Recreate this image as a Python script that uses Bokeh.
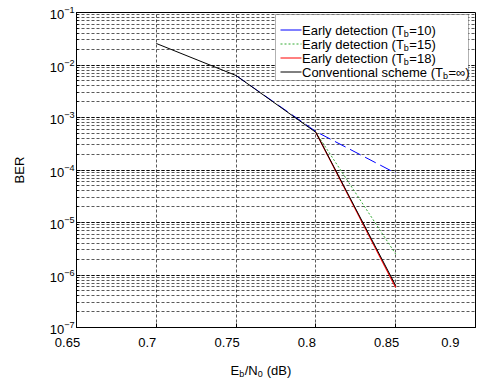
from bokeh.plotting import figure
from bokeh.layouts import column
from bokeh.models import (FixedTicker, LogTicker, Label, BoxAnnotation, Arrow,
                          Range1d)
from bokeh.embed import file_html
from bokeh.resources import INLINE

# ---------------- data ----------------
x_conv = [0.70, 0.75, 0.80, 0.85]
ber_conv = [2.57e-2, 6.3e-3, 5.2e-4, 6.3e-7]

x_tb10 = [0.75, 0.80, 0.85]
ber_tb10 = [6.3e-3, 5.4e-4, 8.7e-5]

x_tb15 = [0.80, 0.85]
ber_tb15 = [5.2e-4, 2.5e-6]

x_tb18 = [0.80, 0.85]
ber_tb18 = [5.2e-4, 5.8e-7]

x_ticks = [0.65, 0.7, 0.75, 0.8, 0.85, 0.9]
x_tick_labels = ["0.65", "0.7", "0.75", "0.8", "0.85", "0.9"]

legend_main = ["Early detection (T", "Early detection (T", "Early detection (T",
               "Conventional scheme (T"]
legend_sub = ["b", "b", "b", "b"]
legend_suffix = ["=10)", "=15)", "=18)", "=\u221e)"]

# ---------------- layout ----------------
W, H = 477, 381
ML, MR, MT = 76, 2, 12
FB = 327                # frame bottom (page px)
H1 = 352                # main figure height
H2 = H - H1             # bottom strip with the x title
X0, X1 = 0.65, 0.9
FONT = "Liberation Sans"
FS = 13
SFS = 9
PAD = "\u00a0" * 5      # trailing pad: tick labels sit left of their ticks

ADV = {" ": 278, "(": 333, ")": 333, "=": 584, "/": 278, "E": 667, "N": 722,
       "B": 667, "T": 611, "C": 722, "a": 556, "b": 556, "c": 500, "d": 556,
       "e": 556, "h": 556, "i": 222, "l": 222, "m": 833, "n": 556, "o": 556,
       "r": 333, "s": 500, "t": 278, "v": 500, "y": 500, "0": 556, "1": 556,
       "5": 556, "8": 556, "\u221e": 713}


def tw(s, size):
    return sum(ADV.get(ch, 556) for ch in s) * size / 1000.0


def sx(px):
    return px - ML


def sy(py):
    return FB - py


p = figure(width=W, height=H1, y_axis_type="log", output_backend="svg",
           toolbar_location=None, x_range=Range1d(X0, X1),
           y_range=Range1d(1e-7, 1e-1),
           min_border_left=ML, min_border_right=MR, min_border_top=MT,
           min_border_bottom=H1 - FB)
p.background_fill_color = "white"
p.border_fill_color = "white"
p.outline_line_color = "black"
p.outline_line_width = 1

for ax in (p.xaxis[0], p.yaxis[0]):
    ax.axis_line_color = "black"
    ax.major_tick_in = 4
    ax.major_tick_out = 0
    ax.minor_tick_in = 2
    ax.minor_tick_out = 0
    ax.major_tick_line_color = "black"
    ax.minor_tick_line_color = "black"
    ax.major_label_text_font = FONT
    ax.major_label_text_font_size = "%dpx" % FS
    ax.major_label_text_color = "black"
p.xaxis.ticker = FixedTicker(ticks=x_ticks, minor_ticks=[])
p.xaxis.major_label_overrides = {t: lbl + PAD for t, lbl in zip(x_ticks, x_tick_labels)}
p.xaxis.major_label_standoff = 7
p.yaxis.ticker = LogTicker(num_minor_ticks=10)
p.yaxis.major_label_standoff = 2
p.yaxis.axis_label = "BER"
p.yaxis.axis_label_text_font = FONT
p.yaxis.axis_label_text_font_size = "%dpx" % FS
p.yaxis.axis_label_text_font_style = "normal"
p.yaxis.axis_label_text_color = "black"
p.yaxis.axis_label_standoff = 20

for g in (p.xgrid, p.ygrid):
    g.grid_line_color = "black"
    g.grid_line_alpha = 0.65
    g.grid_line_dash = "3 2"
p.ygrid.minor_grid_line_color = "black"
p.ygrid.minor_grid_line_alpha = 0.65
p.ygrid.minor_grid_line_dash = "3 2"

colors = ["blue", "#33aa33", "red", "black"]
dashes = ["12 5", "2 2", "solid", "solid"]
widths = [1, 1, 1.2, 1]
p.line(x_tb10, ber_tb10, line_color=colors[0], line_width=widths[0], line_dash=dashes[0])
p.line(x_tb15, ber_tb15, line_color=colors[1], line_width=widths[1], line_dash=dashes[1])
p.line(x_tb18, ber_tb18, line_color=colors[2], line_width=widths[2], line_dash=dashes[2])
p.line(x_conv, ber_conv, line_color=colors[3], line_width=widths[3], line_dash=dashes[3])

# ---------- legend ----------
p.add_layout(BoxAnnotation(left=sx(275), right=sx(468), top=sy(14), bottom=sy(80),
                           left_units="screen", right_units="screen",
                           top_units="screen", bottom_units="screen",
                           fill_color="white", fill_alpha=1,
                           line_color="black", line_width=1, level="annotation"))
row_y = [29.5, 43.5, 57.5, 71.5]
TX = 301.5
for i in range(4):
    yy = row_y[i]
    p.add_layout(Arrow(x_start=sx(280), y_start=sy(yy), x_end=sx(301), y_end=sy(yy),
                       start_units="screen", end_units="screen", end=None,
                       line_color=colors[i], line_width=1,
                       line_dash=("solid" if i == 0 else dashes[i])))
    p.add_layout(Label(x=sx(TX), y=sy(yy), x_units="screen", y_units="screen",
                       text=legend_main[i], text_font=FONT, text_font_size="%dpx" % FS,
                       text_baseline="middle", text_color="black"))
    xs_ = TX + tw(legend_main[i], FS)
    p.add_layout(Label(x=sx(xs_), y=sy(yy + 3.5), x_units="screen", y_units="screen",
                       text=legend_sub[i], text_font=FONT, text_font_size="%dpx" % SFS,
                       text_baseline="middle", text_color="black"))
    xs2 = xs_ + tw(legend_sub[i], SFS) + 0.5
    p.add_layout(Label(x=sx(xs2), y=sy(yy), x_units="screen", y_units="screen",
                       text=legend_suffix[i], text_font=FONT, text_font_size="%dpx" % FS,
                       text_baseline="middle", text_color="black"))

# ---------- bottom strip: x title with subscripts ----------
p2 = figure(width=W, height=H2, output_backend="svg", toolbar_location=None,
            x_range=Range1d(X0, X1), y_range=Range1d(0, H2),
            x_axis_location=None, y_axis_location=None,
            min_border_left=ML, min_border_right=MR, min_border_top=0,
            min_border_bottom=0)
p2.outline_line_color = None
p2.background_fill_color = "white"
p2.border_fill_color = "white"
p2.grid.visible = False

# (text, font size, downward shift, extra gap before)
xl_parts = [("E", FS, 0, 0), ("b", SFS, 3.5, 0), ("/N", FS, 0, 0.5),
            ("0", SFS, 3.5, 0), ("(dB)", FS, 0, 0.5 + tw(" ", FS))]
cx = 230.0
XLY = 369.5
for txt, fs, dy, gap in xl_parts:
    cx += gap
    p2.add_layout(Label(x=cx - ML, y=H - (XLY + dy), x_units="screen", y_units="screen",
                        text=txt, text_font=FONT, text_font_size="%dpx" % fs,
                        text_baseline="middle", text_color="black"))
    cx += tw(txt, fs)

layout = column(p, p2, spacing=0)
open("out.html", "w").write(file_html(layout, INLINE))
